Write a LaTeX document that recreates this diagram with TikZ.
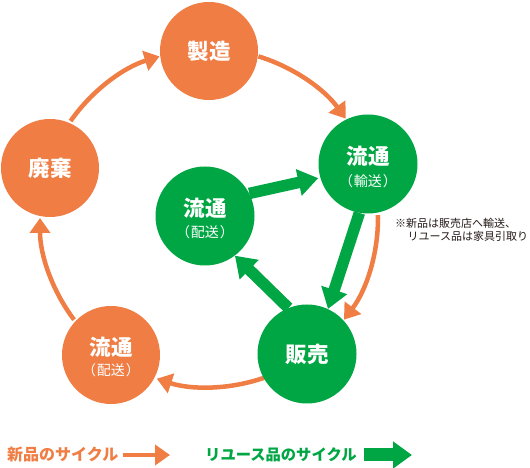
\documentclass[tikz,border=0pt]{standalone}
\usepackage{fontspec}
\setmainfont{Noto Sans CJK JP}
\usetikzlibrary{arrows.meta,backgrounds}
\definecolor{ora}{RGB}{239,125,68}
\definecolor{grn}{RGB}{0,166,68}
\definecolor{ink}{RGB}{35,24,21}
\newcommand{\subpar}[1]{（\hspace{1pt}#1\hspace{1pt}）}
\begin{document}
\begin{tikzpicture}[x=1pt,y=1pt,
  ocirc/.style={circle,fill=ora,minimum size=98pt,inner sep=0pt},
  gcirc/.style={circle,fill=grn,minimum size=99pt,inner sep=0pt},
  biglbl/.style={text=white,inner sep=0pt,font=\fontsize{21.5}{24}\selectfont\bfseries},
  smalllbl/.style={text=white,inner sep=0pt,font=\fontsize{14}{16}\selectfont},
  oarr/.style={draw=ora,line width=4.5pt,-{Triangle[length=15pt,width=20pt]}},
  garr/.style={draw=grn,line width=11.5pt,-{Triangle[length=20pt,width=26pt]}},
  notetxt/.style={anchor=west,inner sep=0pt,text=ink,font=\fontsize{11}{13}\selectfont},
  legtxt/.style={anchor=west,inner sep=0pt,font=\fontsize{15.3}{18}\selectfont\bfseries},
]
\useasboundingbox (0,0) rectangle (530,468);
\coordinate (C) at (209,250);

% circles
\node[ocirc] (seizo) at (209,417) {};
\node[ocirc] (haiki) at (50,300) {};
\node[gcirc] (yuso) at (368,304) {};
\node[gcirc] (haiso) at (205,252) {};
\node[ocirc] (ohaiso) at (111,113) {};
\node[gcirc] (hanbai) at (307,114) {};

% labels
\node[biglbl] (seizoT) at (209,417) {製造};
\node[biglbl] (haikiT) at (50,300) {廃棄};
\node[biglbl] (yusoT) at (368,311.5) {流通};
\node[smalllbl] (yusoS) at (368,287) {\subpar{輸送}};
\node[biglbl] (haisoT) at (205,260) {流通};
\node[smalllbl] (haisoS) at (205,236) {\subpar{配送}};
\node[biglbl] (ohaisoT) at (111,121) {流通};
\node[smalllbl] (ohaisoS) at (111,98) {\subpar{配送}};
\node[biglbl] (hanbaiT) at (307,114) {販売};

% connectors
\begin{scope}[on background layer]
\draw[oarr] ([shift={(145:169)}]C) arc[start angle=145,end angle=107,radius=169];
\draw[oarr] ([shift={(73:169)}]C) arc[start angle=73,end angle=36,radius=169];
\draw[oarr] ([shift={(1:169)}]C) arc[start angle=1,end angle=-37,radius=169];
\draw[oarr] ([shift={(-71:169)}]C) arc[start angle=-71,end angle=-108,radius=169];
\draw[oarr] ([shift={(-143:169)}]C) arc[start angle=-143,end angle=-180,radius=169];
\draw[garr,shorten >=2pt] (haiso.27) -- (yuso.196);
\draw[garr] (yuso.260) -- (hanbai.65);
\draw[garr] (hanbai.112) -- (haiso.-53);
\end{scope}

% note
\node[notetxt] (note1) at (395,244.5) {※新品は販売店へ輸送、};
\node[notetxt] (note2) at (407.5,232) {リユース品は家具引取り};

% legend
\node[legtxt,text=ora,font=\fontsize{16}{18}\selectfont\bfseries] (leg1) at (7,13) {新品のサイクル};
\coordinate (la1) at (123,13);
\coordinate (la2) at (170,13);
\draw[oarr] (la1) -- (la2);
\node[legtxt,text=grn] (leg2) at (205,13) {リユース品のサイクル};
\coordinate (lb1) at (364,13);
\coordinate (lb2) at (412,13);
\draw[garr,line width=13pt,-{Triangle[length=19pt,width=26pt]}] (lb1) -- (lb2);
\end{tikzpicture}
\end{document}
